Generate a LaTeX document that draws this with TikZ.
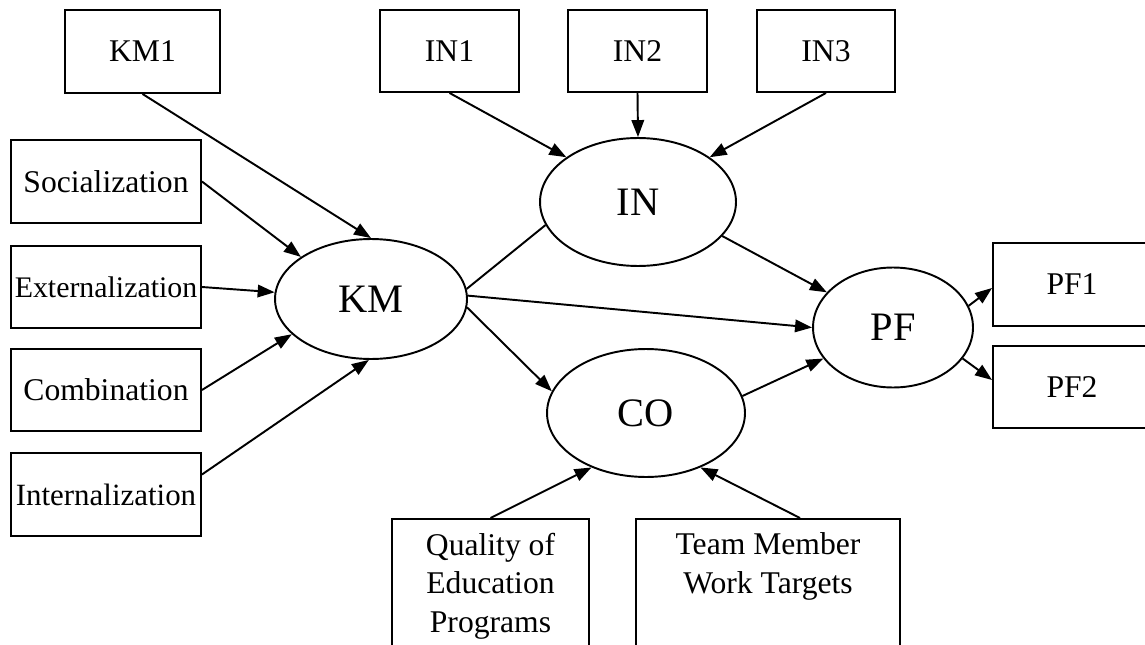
\documentclass[tikz,border=0pt]{standalone}
\usepackage{fontspec}
\setmainfont{Liberation Serif}
\usetikzlibrary{arrows.meta,shapes.geometric}
\begin{document}
\begin{tikzpicture}[x=0.02cm,y=-0.02cm,
  box/.style={draw,line width=1.1pt,rectangle,inner sep=0pt,font=\fontsize{18}{22}\selectfont},
  latent/.style={draw,line width=1.1pt,ellipse,inner sep=0pt,font=\fontsize{23}{27}\selectfont},
  arr/.style={line width=1.1pt,-{Triangle[length=0.34cm,width=0.25cm]}},
  plain/.style={line width=1.1pt}]
\useasboundingbox (0,0) rectangle (1145,645);
\clip (0,0) rectangle (1145,645);
% indicator boxes
\node[box,minimum width=3.1cm,minimum height=1.66cm] (km1) at (142.5,51.5) {KM1};
\node[box,minimum width=2.78cm,minimum height=1.64cm] (in1) at (449.5,51) {IN1};
\node[box,minimum width=2.78cm,minimum height=1.64cm] (in2) at (637.5,51) {IN2};
\node[box,minimum width=2.76cm,minimum height=1.64cm] (in3) at (826,51) {IN3};
\node[box,minimum width=3.8cm,minimum height=1.66cm] (soc) at (106,181.5) {Socialization};
\node[box,minimum width=3.8cm,minimum height=1.64cm,font=\fontsize{17}{22}\selectfont] (ext) at (106,287) {Externalization};
\node[box,minimum width=3.8cm,minimum height=1.64cm] (comb) at (106,390) {Combination};
\node[box,minimum width=3.8cm,minimum height=1.66cm,font=\fontsize{17.6}{22}\selectfont] (int) at (106,494.5) {Internalization};
\node[box,minimum width=3.16cm,minimum height=1.66cm] (pf1) at (1072,284.5) {PF1};
\node[box,minimum width=3.16cm,minimum height=1.64cm] (pf2) at (1072,387) {PF2};
\node[box,align=center,anchor=north,minimum width=3.94cm,inner ysep=0.28cm] (qual) at (490.5,518) {Quality of\\Education\\Programs};
\node[box,align=center,anchor=north,minimum width=5.28cm,inner ysep=0.28cm] (team) at (768,518) {Team Member\\Work Targets\\\mbox{}};
% latent variables
\node[latent,minimum width=3.84cm,minimum height=2.4cm] (km) at (371,299) {KM};
\node[latent,minimum width=3.92cm,minimum height=2.56cm] (in) at (638,202) {IN};
\node[latent,minimum width=3.96cm,minimum height=2.56cm] (co) at (646,413) {CO};
\node[latent,minimum width=3.2cm,minimum height=2.4cm] (pf) at (893,327.5) {PF};
% connectors
\draw[arr] (km1.south) -- (km.90);
\draw[arr] (soc.east) -- (km.149);
\draw[arr] (ext.east) -- (km.176);
\draw[arr] (comb.east) -- (km.204);
\draw[arr] ([yshift=0.4cm]int.east) -- (km.268);
\draw[arr] (in1.south) -- (in.148);
\draw[arr] (in2.south) -- (in.90);
\draw[arr] (in3.south) -- (in.32);
\draw[plain] (km.6) -- (in.194);
\draw[arr] (km.2) -- (pf.180);
\draw[arr] (km.-5) -- (co.167);
\draw[arr] (in.-22) -- (pf.152);
\draw[arr] (co.10) -- (pf.204);
\draw[arr] (pf.16) -- ([yshift=-0.07cm]pf1.west);
\draw[arr] (pf.336) -- ([yshift=0.14cm]pf2.west);
\draw[arr] (qual.north) -- (co.225);
\draw[arr] ([xshift=0.64cm]team.north) -- (co.315);
\end{tikzpicture}
\end{document}
